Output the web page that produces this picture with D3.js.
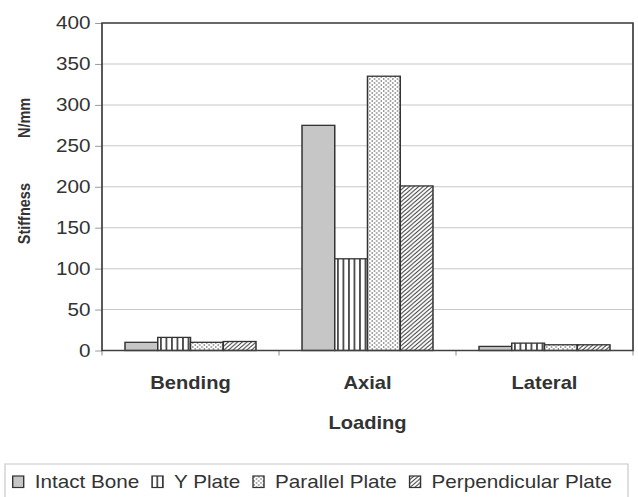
<!DOCTYPE html>
<html>
<head>
  <meta charset="utf-8">
  <title>Stiffness by loading</title>
  <script src="https://cdn.jsdelivr.net/npm/d3@7"></script>
  <style>
    body { margin: 0; background: #fff; }
    text { font-family: "Liberation Sans", Arial, sans-serif; fill: #333; }
  </style>
</head>
<body>
<svg id="chart" width="638" height="497"></svg>
<script>
// data
var categories = ["Bending", "Axial", "Lateral"];
var seriesNames = ["Intact Bone", "Y Plate", "Parallel Plate", "Perpendicular Plate"];
var intactBone = [10, 275, 5];
var yPlate = [16, 112, 9];
var parallelPlate = [10, 335, 7];
var perpendicularPlate = [11, 201, 7];
var yTicks = [0, 50, 100, 150, 200, 250, 300, 350, 400];

var allSeries = [intactBone, yPlate, parallelPlate, perpendicularPlate];
var fills = ["#c6c6c6", "url(#vlines)", "url(#dots)", "url(#hatch)"];

// the scanned figure is a bit stretched sideways, so draw in a narrower
// space and scale x back up
var SX = 1.15;
var svg = d3.select("#chart");

var defs = svg.append("defs");
var vl = defs.append("pattern").attr("id", "vlines")
    .attr("patternUnits", "userSpaceOnUse").attr("width", 4.8).attr("height", 10);
vl.append("rect").attr("width", 4.8).attr("height", 10).attr("fill", "#fff");
vl.append("line").attr("x1", 2.4).attr("x2", 2.4).attr("y1", 0).attr("y2", 10)
    .attr("stroke", "#333").attr("stroke-width", 1.4);

var dt = defs.append("pattern").attr("id", "dots")
    .attr("patternUnits", "userSpaceOnUse").attr("width", 4).attr("height", 4);
dt.append("rect").attr("width", 4).attr("height", 4).attr("fill", "#fff");
dt.append("circle").attr("cx", 1).attr("cy", 1).attr("r", 0.7).attr("fill", "#555");
dt.append("circle").attr("cx", 3).attr("cy", 3).attr("r", 0.7).attr("fill", "#555");

var ht = defs.append("pattern").attr("id", "hatch")
    .attr("patternUnits", "userSpaceOnUse").attr("width", 4).attr("height", 4);
ht.append("rect").attr("width", 4).attr("height", 4).attr("fill", "#fff");
ht.append("path").attr("d", "M-1,1 l2,-2 M0,4 l4,-4 M3,5 l2,-2")
    .attr("stroke", "#444").attr("stroke-width", 0.9);

var g = svg.append("g").attr("transform", "scale(" + SX + ",1)");

var plotLeft = 102 / SX, plotRight = 633 / SX, plotTop = 23, plotBottom = 350.5;

var x0 = d3.scaleBand().domain(categories).range([plotLeft, plotRight])
    .paddingInner(0.26).paddingOuter(0.13);
var x1 = d3.scaleBand().domain(seriesNames).range([0, x0.bandwidth()]);
var y = d3.scaleLinear().domain([0, 400]).range([plotBottom, plotTop]);

// gridlines
g.selectAll(".grid").data(yTicks.slice(1)).enter().append("line")
    .attr("x1", plotLeft).attr("x2", plotRight)
    .attr("y1", function(d) { return y(d); }).attr("y2", function(d) { return y(d); })
    .attr("stroke", "#c8c8c8").attr("stroke-width", 1);

// y axis
var yAxis = g.append("g").attr("transform", "translate(" + plotLeft + ",0)")
    .call(d3.axisLeft(y).tickValues(yTicks).tickSize(6).tickPadding(4));
yAxis.select(".domain").remove();
yAxis.selectAll("line").attr("stroke", "#999");
yAxis.selectAll("text").style("font-size", "18px").attr("fill", "#333");

// bars
var groups = g.selectAll(".cat").data(categories).enter().append("g")
    .attr("transform", function(d) { return "translate(" + x0(d) + ",0)"; });
groups.selectAll("rect")
    .data(function(d, i) {
      return seriesNames.map(function(s, j) { return {s: s, v: allSeries[j][i], j: j}; });
    })
  .enter().append("rect")
    .attr("x", function(d) { return x1(d.s); })
    .attr("width", x1.bandwidth())
    .attr("y", function(d) { return y(d.v); })
    .attr("height", function(d) { return plotBottom - y(d.v); })
    .attr("fill", function(d) { return fills[d.j]; })
    .attr("stroke", "#333").attr("stroke-width", 1.3);

// x axis ticks at category boundaries
var xb = categories.map(function(c) { return x0(c) - x0.step() * 0.13; }).concat([plotRight]);
g.selectAll(".xt").data(xb).enter().append("line")
    .attr("x1", function(d) { return d; }).attr("x2", function(d) { return d; })
    .attr("y1", plotBottom).attr("y2", plotBottom + 5)
    .attr("stroke", "#999");

// plot frame
g.append("rect").attr("x", plotLeft).attr("y", plotTop)
    .attr("width", plotRight - plotLeft).attr("height", plotBottom - plotTop)
    .attr("fill", "none").attr("stroke", "#404040").attr("stroke-width", 1.5);

// category labels
g.selectAll(".cl").data(categories).enter().append("text")
    .attr("x", function(d) { return x0(d) + x0.bandwidth() / 2; })
    .attr("y", 389)
    .attr("text-anchor", "middle")
    .style("font-size", "17.5px").style("font-weight", "bold")
    .text(function(d) { return d; });

g.append("text")
    .attr("x", (plotLeft + plotRight) / 2).attr("y", 429)
    .attr("text-anchor", "middle")
    .style("font-size", "17.5px").style("font-weight", "bold")
    .text("Loading");

// y title
var yt = g.append("text")
    .attr("transform", "translate(" + (30 / SX) + ",171) rotate(-90)")
    .attr("text-anchor", "middle")
    .style("font-size", "14.5px").style("font-weight", "bold");
yt.append("tspan").text("Stiffness");
yt.append("tspan").attr("dx", 45).text("N/mm");

// legend
g.append("rect").attr("x", 5 / SX).attr("y", 464)
    .attr("width", (628 - 5) / SX).attr("height", 50)
    .attr("fill", "#fff").attr("stroke", "#d0d0d0").attr("stroke-width", 1.2);

var lx = 12.7 / SX;
seriesNames.forEach(function(s, j) {
  g.append("rect").attr("x", lx).attr("y", 476)
      .attr("width", 11 / SX).attr("height", 11.5)
      .attr("fill", fills[j]).attr("stroke", "#333").attr("stroke-width", 1.2);
  var t = g.append("text").attr("x", lx + 22 / SX).attr("y", 488)
      .style("font-size", "18px").text(s);
  lx = lx + 22 / SX + t.node().getComputedTextLength() + 12.7 / SX;
});
</script>
</body>
</html>
